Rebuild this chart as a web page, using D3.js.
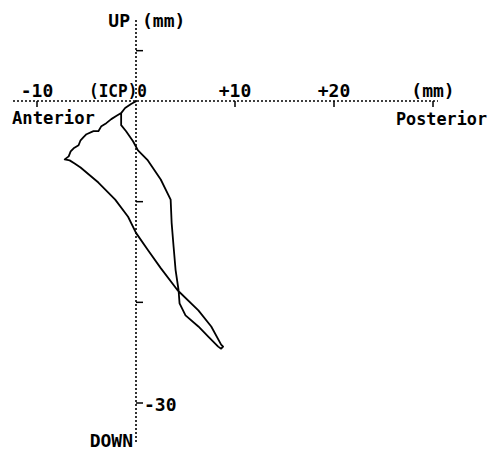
<!DOCTYPE html>
<html><head><meta charset="utf-8">
<script src="https://cdn.jsdelivr.net/npm/d3@7"></script>
<style>body{margin:0;background:#fff}text{font-family:"DejaVu Sans Mono",monospace;font-weight:bold;font-size:18px;fill:#000}</style>
</head><body><svg id="c" width="496" height="452"></svg>
<script>
const xTicks = [-10, 10, 20, 30];
const yTicks = [5, -10, -20, -30];
const xTickLabels = [{v:-10,t:"-10"},{v:0,t:"(ICP)0"},{v:10,t:"+10"},{v:20,t:"+20"},{v:30,t:"(mm)"}];
// trace: anterior-posterior (mm), up-down (mm)
const traceX = [0.05,-0.5,-1.1,-1.5,-2.0,-2.5,-3.0,-3.5,-3.8,-4.3,-5.0,-5.3,-5.6,-5.8,-6.3,-6.6,-6.8,-7.2,-6.7,-6.2,-5.6,-3.8,-2.1,-0.8,0,1.2,2.5,4.2,6.3,7.6,8.6,8.8,8.6,8.3,7.3,6.3,5.0,4.4,4.3,4.0,3.8,3.6,3.5,2.5,1.2,0.2,-0.3,-1.0,-1.5,-1.5,-1.1,-0.5];
const traceY = [0,-0.3,-0.7,-1.2,-1.5,-1.8,-2.2,-2.5,-3.0,-3.0,-3.3,-3.6,-3.9,-4.4,-4.7,-5.0,-5.5,-5.8,-5.9,-6.2,-6.6,-8.1,-9.8,-11.5,-13.1,-14.8,-16.6,-18.8,-20.8,-22.4,-24.2,-24.4,-24.6,-24.4,-23.4,-22.4,-21.3,-20.1,-18.8,-16.8,-14.5,-12.1,-9.8,-7.8,-5.9,-4.9,-4.0,-3.0,-2.4,-1.2,-0.7,-0.3];

const svg = d3.select("#c");
const x = d3.scaleLinear().domain([-10, 30]).range([37, 433]);
const y = d3.scaleLinear().domain([0, -30]).range([101, 403]);

// axes (dotted)
svg.append("line").attr("x1", 13).attr("x2", 438).attr("y1", y(0)).attr("y2", y(0))
  .attr("stroke", "#000").attr("stroke-width", 1.6).attr("stroke-dasharray", "2,2");
svg.append("line").attr("x1", x(0)).attr("x2", x(0)).attr("y1", 20).attr("y2", 442)
  .attr("stroke", "#000").attr("stroke-width", 1.6).attr("stroke-dasharray", "2,2");

svg.selectAll(".xt").data(xTicks).enter().append("line")
  .attr("x1", d => x(d)).attr("x2", d => x(d)).attr("y1", y(0)).attr("y2", y(0) + 6)
  .attr("stroke", "#000").attr("stroke-width", 1.5);
svg.selectAll(".yt").data(yTicks).enter().append("line")
  .attr("x1", x(0)).attr("x2", x(0) + 7).attr("y1", d => y(d)).attr("y2", d => y(d))
  .attr("stroke", "#000").attr("stroke-width", 1.5);

// labels
svg.selectAll(".xl").data(xTickLabels).enter().append("text")
  .attr("x", d => d.v === 0 ? x(0) + 11 : x(d.v)).attr("y", 97)
  .attr("text-anchor", d => d.v === 0 ? "end" : "middle")
  .attr("textLength", d => d.v === 0 ? 58 : null)
  .attr("lengthAdjust", "spacingAndGlyphs")
  .text(d => d.t);
svg.append("text").attr("x", 12).attr("y", 124).attr("textLength", 83).attr("lengthAdjust", "spacingAndGlyphs").text("Anterior");
svg.append("text").attr("x", 396).attr("y", 125).attr("textLength", 91).attr("lengthAdjust", "spacingAndGlyphs").text("Posterior");
svg.append("text").attr("x", 130).attr("y", 27).attr("text-anchor", "end").text("UP");
svg.append("text").attr("x", 142).attr("y", 27).text("(mm)");
svg.append("text").attr("x", 144).attr("y", 411).text("-30");
svg.append("text").attr("x", 133).attr("y", 447).attr("text-anchor", "end").text("DOWN");

// trace
const pts = traceX.map((v, i) => [x(v), y(traceY[i])]);
svg.append("path").attr("d", d3.line()(pts)).attr("fill", "none")
  .attr("stroke", "#000").attr("stroke-width", 1.8).attr("stroke-linejoin", "round");
</script></body></html>
